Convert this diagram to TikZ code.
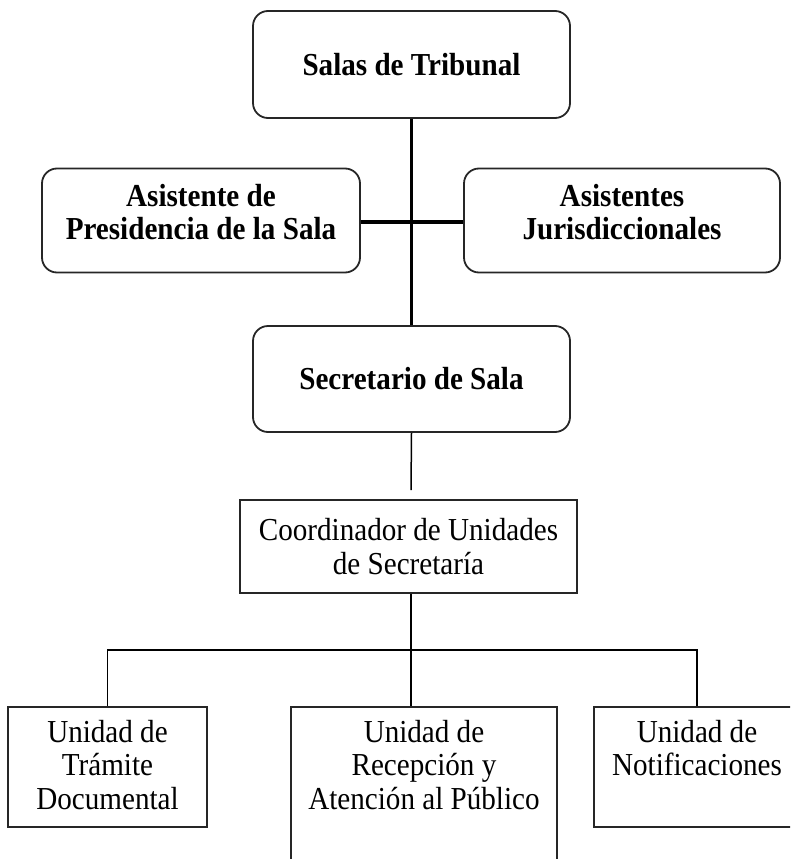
\documentclass[tikz,border=0pt]{standalone}
\usepackage{fontspec}
\setmainfont[FakeStretch=0.91]{Liberation Serif}
\begin{document}
\begin{tikzpicture}[x=1pt,y=-1pt,
 rbox/.style={draw=black!85, line width=1.8pt, rounded corners=15pt, font=\fontsize{32}{33}\selectfont\bfseries, align=center, inner sep=0pt},
 sbox/.style={draw=black!85, line width=1.6pt, inner sep=0pt},
 txt/.style={font=\fontsize{32}{33.3}\selectfont, align=center, inner sep=0pt},
 thickline/.style={line width=3.6pt},
 thinline/.style={line width=1.5pt}]
\useasboundingbox (0,0) rectangle (790,859);
\clip (0,0) rectangle (790,859);
% rounded boxes
\node[rbox, minimum width=317pt, minimum height=107pt] (salas) at (411.5,64.5) {Salas de Tribunal};
\node[rbox, text depth=17pt, minimum width=318pt, minimum height=104pt] (asp) at (201,220.5) {Asistente de\\Presidencia de la Sala};
\node[rbox, text depth=17pt, minimum width=316pt, minimum height=104pt] (asj) at (622,220.5) {Asistentes\\Jurisdiccionales};
\node[rbox, minimum width=317pt, minimum height=106pt] (secr) at (411.5,379) {Secretario de Sala};
% square boxes
\node[sbox, txt, minimum width=337pt, minimum height=93pt] (coord) at (408.5,546.5) {Coordinador de Unidades\\de Secretaría};
\node[sbox, minimum width=199pt, minimum height=120pt] (u1) at (107.5,767) {};
\node[sbox, minimum width=266pt, minimum height=170pt] (u2) at (424,792) {};
\node[sbox, minimum width=206pt, minimum height=120pt] (u3) at (697,767) {};
\node[txt, anchor=north] (u1t) at (107.5,720) {Unidad de\\Trámite\\Documental};
\node[txt, anchor=north] (u2t) at (424,720) {Unidad de\\Recepción y\\Atención al Público};
\node[txt, anchor=north] (u3t) at (697,720) {Unidad de\\Notificaciones};
% connectors
\draw[thickline] (salas.south) -- (secr.north);
\coordinate (hbar) at (411,222);
\draw[thickline] (asp.east |- hbar) -- (asj.west |- hbar);
\coordinate (gapend) at (411,490);
\coordinate (bus) at (411,650);
\draw[thinline] (secr.south) -- (gapend);
\draw[thinline] (coord.south -| bus) -- (bus);
\draw[thinline] (u1.north) |- (bus) -| (u3.north);
\draw[thinline] (bus) -- (u2.north -| bus);
\end{tikzpicture}
\end{document}
